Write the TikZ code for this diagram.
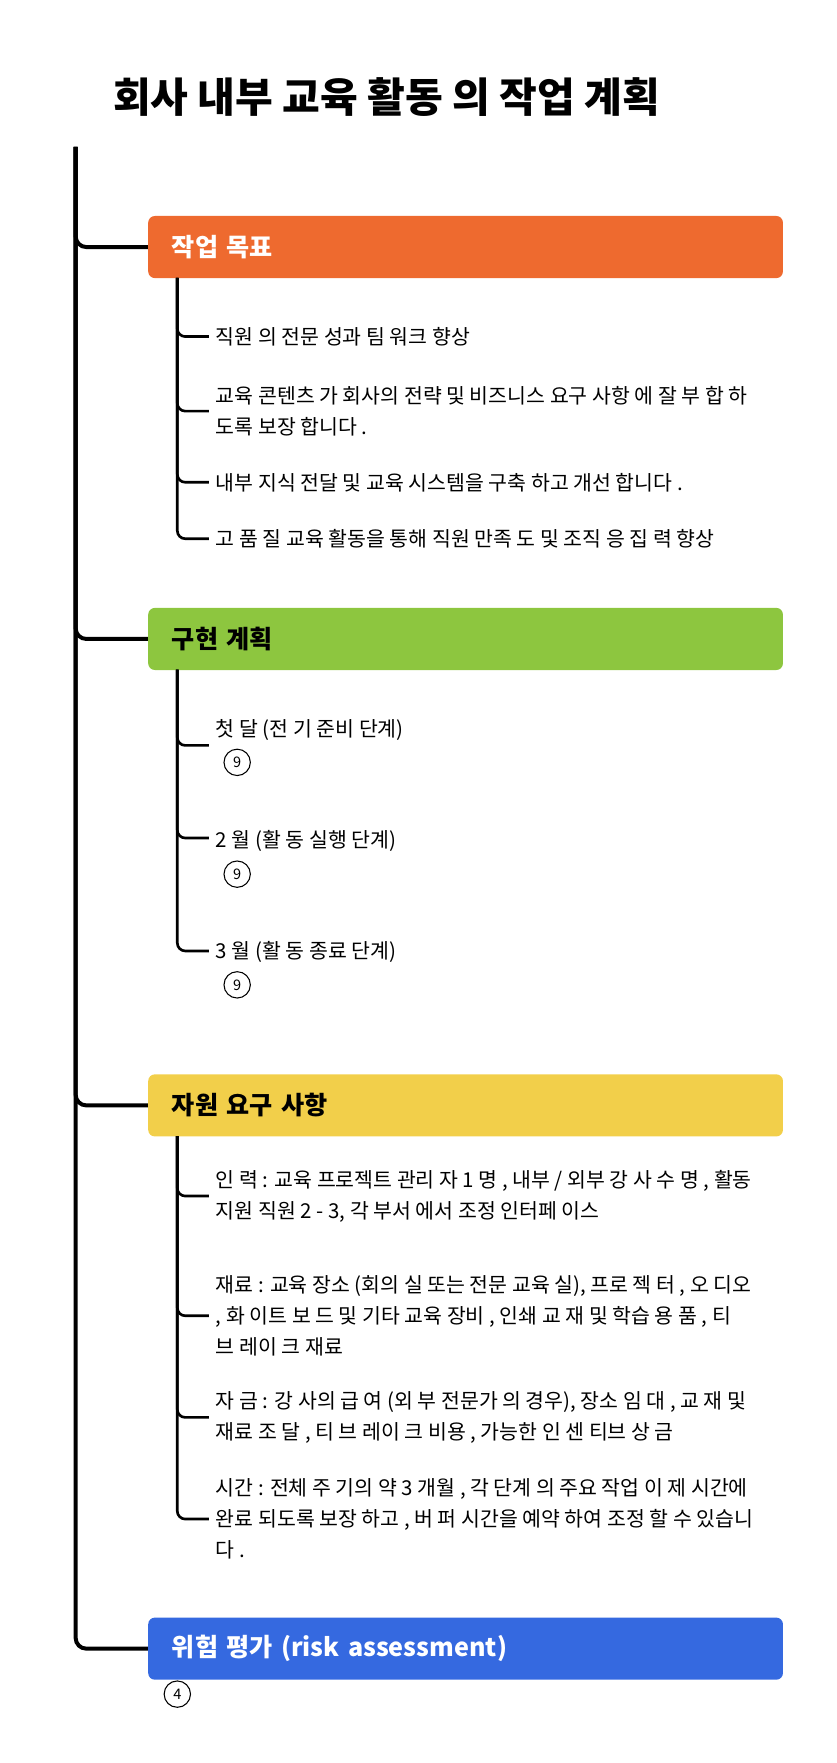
\documentclass[tikz,border=0pt]{standalone}
\usepackage{fontspec}
\setmainfont{Noto Sans CJK KR}
\usepackage{tikz}
\definecolor{goalorange}{HTML}{EE6A2F}
\definecolor{plangreen}{HTML}{8DC63F}
\definecolor{resyellow}{HTML}{F2CF4A}
\definecolor{riskblue}{HTML}{3569E0}
\tikzset{
  topic/.style={rounded corners=5pt, minimum width=562*0.03cm, minimum height=55*0.03cm,
    anchor=north west, text width=520*0.03cm, align=left, font=\fontsize{19}{22}\selectfont\bfseries},
  item/.style={anchor=west, align=left, inner sep=0pt,
    font=\fontsize{15.5}{23.5}\selectfont},
  branch/.style={line width=3pt, rounded corners=8pt},
  twig/.style={line width=2pt, rounded corners=6pt},
  cnt/.style={circle, draw, line width=0.8pt, inner sep=1pt, minimum size=0.7cm, font=\fontsize{11}{11}\selectfont}
}
\begin{document}
\begin{tikzpicture}[x=0.03cm, y=-0.03cm]
		\useasboundingbox (0,0) rectangle (741,1561);
		\node[anchor=west, font=\fontsize{31}{34}\selectfont\bfseries] (title) at (96,86) {회사 내부 교육 활동 의 작업 계획};
		% main topics
		\node[topic, fill=goalorange, text=white] (goal) at (131,191) {작업 목표};
		\node[topic, fill=plangreen] (plan) at (131,538) {구현 계획};
		\node[topic, fill=resyellow] (res) at (131,951) {자원 요구 사항};
		\node[topic, fill=riskblue, text=white] (risk) at (131,1432) {위험 평가 (risk assessment)};
		\coordinate (root) at (67,130);
		\draw[branch] (root) |- (goal.west);
		\draw[branch] (root) |- (plan.west);
		\draw[branch] (root) |- (res.west);
		\draw[branch] (root) |- (risk.west);
		% goals
		\node[item] (g1) at (191,298) {직원 의 전문 성과 팀 워크 향상};
		\node[item] (g2) at (191,364) {교육 콘텐츠 가 회사의 전략 및 비즈니스 요구 사항 에 잘 부 합 하\\도록 보장 합니다 .};
		\node[item] (g3) at (191,427) {내부 지식 전달 및 교육 시스템을 구축 하고 개선 합니다 .};
		\node[item] (g4) at (191,477) {고 품 질 교육 활동을 통해 직원 만족 도 및 조직 응 집 력 향상};
		\foreach \n in {g1,g2,g3,g4}
		\draw[twig] (157,246) |- ([xshift=-6*0.03cm]\n.west);
		% plan
		\node[item] (p1) at (191,646) {첫 달 (전 기 준비 단계)};
		\node[item] (p2) at (191,745) {2 월 (활 동 실행 단계)};
		\node[item] (p3) at (191,843) {3 월 (활 동 종료 단계)};
		\node[cnt] (c1) at (210,675) {9};
		\node[cnt] (c2) at (210,774) {9};
		\node[cnt] (c3) at (210,872) {9};
		\draw[twig] (157,593) |- (185,660);
		\draw[twig] (157,593) |- (185,742);
		\draw[twig] (157,593) |- (185,842);
		% resources
		\node[item] (r1) at (191,1059) {인 력 : 교육 프로젝트 관리 자 1 명 , 내부 / 외부 강 사 수 명 , 활동\\지원 직원 2 - 3, 각 부서 에서 조정 인터페 이스};
		\node[item] (r2) at (191,1165) {재료 : 교육 장소 (회의 실 또는 전문 교육 실), 프로 젝 터 , 오 디오\\, 화 이트 보 드 및 기타 교육 장비 , 인쇄 교 재 및 학습 용 품 , 티\\브 레이 크 재료};
		\node[item] (r3) at (191,1255) {자 금 : 강 사의 급 여 (외 부 전문가 의 경우), 장소 임 대 , 교 재 및\\재료 조 달 , 티 브 레이 크 비용 , 가능한 인 센 티브 상 금};
		\node[item] (r4) at (191,1345) {시간 : 전체 주 기의 약 3 개월 , 각 단계 의 주요 작업 이 제 시간에\\완료 되도록 보장 하고 , 버 퍼 시간을 예약 하여 조정 할 수 있습니\\다 .};
		\foreach \n in {r1,r2,r3,r4}
		\draw[twig] (157,1006) |- ([xshift=-6*0.03cm]\n.west);
		% risk
		\node[cnt] (c4) at (157,1500) {4};
\end{tikzpicture}
\end{document}
